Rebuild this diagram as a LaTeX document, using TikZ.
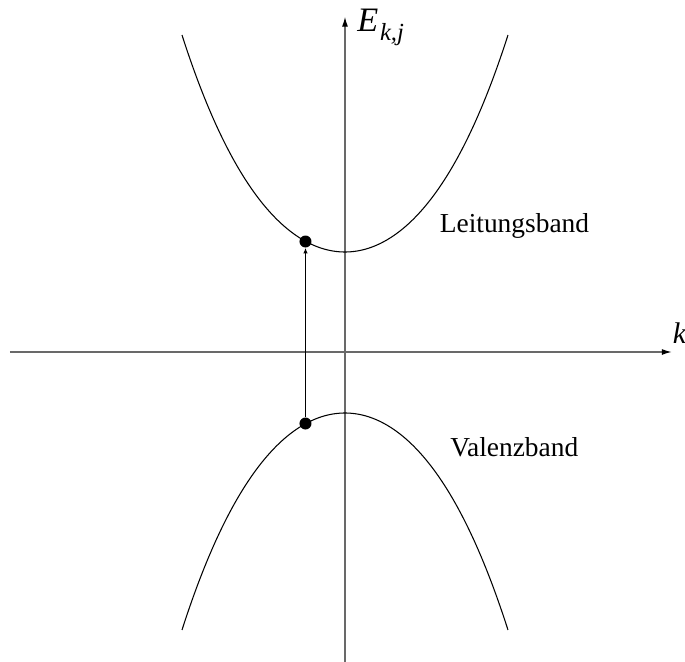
\documentclass[tikz,border=0pt]{standalone}
\usepackage{fontspec}
\setmainfont{Liberation Serif}
\usepackage{tikz}
\usetikzlibrary{arrows.meta,positioning}
\definecolor{bdgray}{RGB}{105,105,105}
\tikzset{
  bdaxis/.style={draw=bdgray, line width=0.6pt,
    -{Latex[length=5.5pt,width=3.4pt,color=black]}},
  bdcurve/.style={draw=black, line width=0.6pt},
  bddot/.style={circle, fill=black, inner sep=0pt, minimum size=0.24cm},
  bdarrow/.style={-{Latex[length=3.2pt,width=2.6pt]}, line width=0.6pt, draw=black},
  bdlabel/.style={anchor=base west, inner sep=0pt,
    font=\fontsize{15.6}{18}\selectfont}
}

\begin{document}
\begin{tikzpicture}
  \useasboundingbox (-6.90cm,-6.20cm) rectangle (6.80cm,7.04cm);
  % axes
  \coordinate (xL) at (-6.70cm,0.00cm);
  \coordinate (xR) at (6.53cm,0.00cm);
  \coordinate (yB) at (0.00cm,-6.20cm);
  \coordinate (yT) at (0.00cm,6.70cm);
  \draw[bdaxis] (xL) -- (xR);
  \draw[bdaxis] (yB) -- (yT);
  \node[anchor=base west, inner sep=0pt] (lE) at (0.24cm,6.41cm)
    {\fontsize{19.5}{22}\selectfont\itshape E\kern1pt\raisebox{-5pt}{\fontsize{14}{16}\selectfont\itshape k,j}};
  \node[anchor=base west, inner sep=0pt] (lk) at (6.55cm,0.17cm)
    {\fontsize{17}{20}\selectfont\itshape k};
  % bands
  \draw[bdcurve] plot[domain=-3.26:3.26, samples=90, smooth]
    (\x, {2.00+0.33925*\x*\x+0.0065*\x*\x*\x*\x});
  \draw[bdcurve] plot[domain=-3.26:3.26, samples=90, smooth]
    (\x, {-1.22-0.33925*\x*\x-0.0065*\x*\x*\x*\x});
  \node[bdlabel] (lL) at (1.89cm,2.39cm) {Leitungsband};
  \node[bdlabel] (lV) at (2.10cm,-2.09cm) {Valenzband};
  % transition
  \node[bddot] (dC) at (-0.79cm,2.21cm) {};
  \node[bddot] (dV) at (-0.79cm,-1.43cm) {};
  \draw[bdarrow] (dV) -- (dC);
\end{tikzpicture}
\end{document}
